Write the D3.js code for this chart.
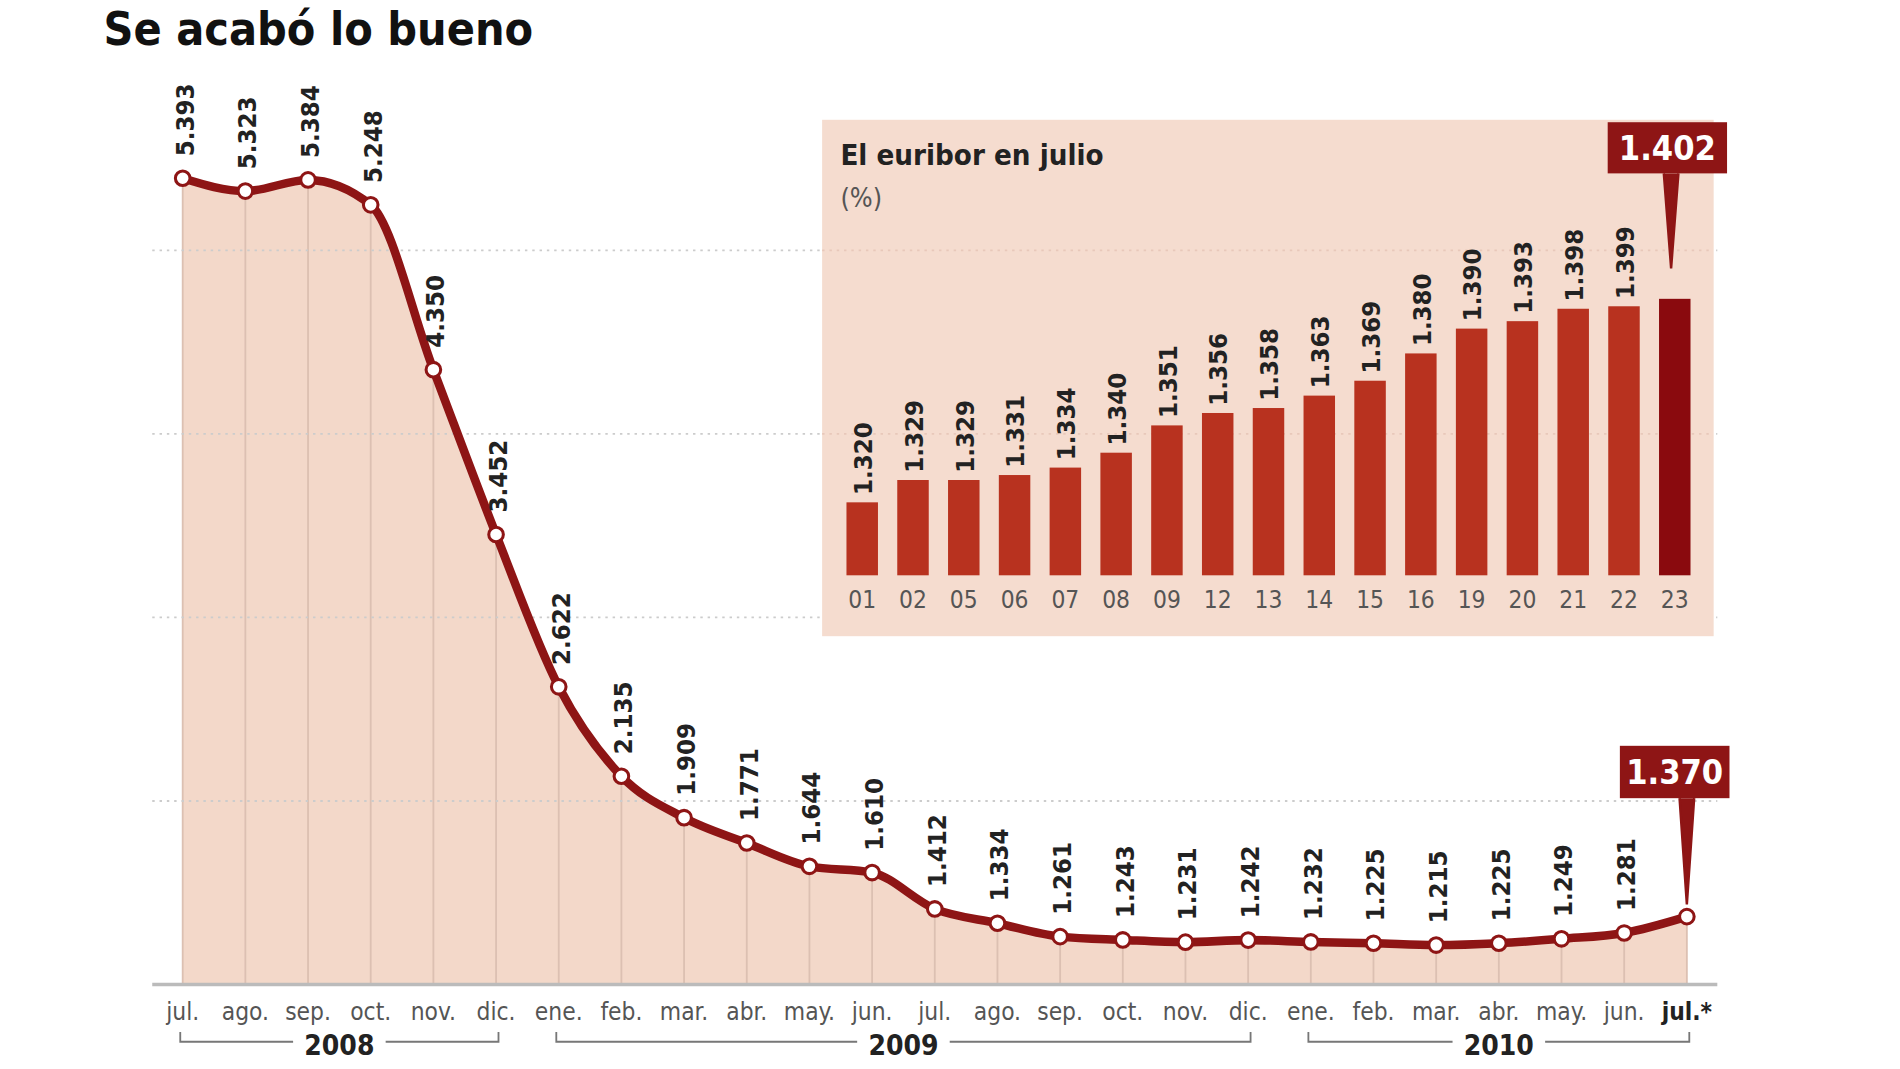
<!DOCTYPE html>
<html><head><meta charset="utf-8">
<script src="https://cdn.jsdelivr.net/npm/d3@7"></script>
<style>body{margin:0;background:#fff}svg{display:block}
text{font-family:"Liberation Sans Narrow","DejaVu Sans Condensed","Arial Narrow",sans-serif;font-weight:bold}</style>
</head><body><svg id="c" width="1900" height="1069" viewBox="0 0 1560 877"></svg>
<script>
const months=["jul.","ago.","sep.","oct.","nov.","dic.","ene.","feb.","mar.","abr.","may.","jun.","jul.","ago.","sep.","oct.","nov.","dic.","ene.","feb.","mar.","abr.","may.","jun.","jul.*"];
const values=[5.393,5.323,5.384,5.248,4.350,3.452,2.622,2.135,1.909,1.771,1.644,1.610,1.412,1.334,1.261,1.243,1.231,1.242,1.232,1.225,1.215,1.225,1.249,1.281,1.370];
const labels=["5.393","5.323","5.384","5.248","4.350","3.452","2.622","2.135","1.909","1.771","1.644","1.610","1.412","1.334","1.261","1.243","1.231","1.242","1.232","1.225","1.215","1.225","1.249","1.281",""];
const years=[{y:"2008",a:0,b:5},{y:"2009",a:6,b:17},{y:"2010",a:18,b:24}];
const gridVals=[2,3,4,5];
const days=["01","02","05","06","07","08","09","12","13","14","15","16","19","20","21","22","23"];
const julyVals=[1.320,1.329,1.329,1.331,1.334,1.340,1.351,1.356,1.358,1.363,1.369,1.380,1.390,1.393,1.398,1.399,1.402];

const svg=d3.select("#c");
const red="#8e1515";
const x=d3.scaleLinear().domain([0,24]).range([150,1385]);
const y=d3.scaleLinear().domain([1,5.393]).range([808,146]);

svg.append("text").attr("x",85).attr("y",37).attr("font-size",38).attr("font-family","DejaVu Sans").attr("fill","#111").text("Se acabó lo bueno");

const area=d3.area().x((d,i)=>x(i)).y0(y(1)).y1(d=>y(d)).curve(d3.curveMonotoneX);
svg.append("path").datum(values).attr("d",area).attr("fill","#f3d8c9");
svg.selectAll(".vl").data(values).join("line").attr("x1",(d,i)=>x(i)).attr("x2",(d,i)=>x(i)).attr("y1",y(1)).attr("y2",d=>y(d)).attr("stroke","#dcc0b2").attr("stroke-width",1.5);
svg.selectAll(".g").data(gridVals).join("line").attr("x1",125).attr("x2",1410).attr("y1",d=>y(d)).attr("y2",d=>y(d)).attr("stroke","#ccc").attr("stroke-width",1.5).attr("stroke-dasharray","2,4");
svg.append("line").attr("x1",125).attr("x2",1410).attr("y1",y(1)).attr("y2",y(1)).attr("stroke","#bbb").attr("stroke-width",3);

const ix=d3.scaleBand().domain(days).range([695,1388]).paddingInner(0.38);
const iy=d3.scaleLinear().domain([1.2906,1.402]).range([472,245]);
svg.append("rect").attr("x",675).attr("y",98).attr("width",732).attr("height",424).attr("fill","#f5dccf");
svg.selectAll(".g2").data(gridVals.filter(v=>v>=4)).join("line").attr("x1",675).attr("x2",1407).attr("y1",d=>y(d)).attr("y2",d=>y(d)).attr("stroke","#e8c8ba").attr("stroke-width",1.5).attr("stroke-dasharray","2,4");
svg.append("text").attr("x",690).attr("y",135).attr("font-size",24).attr("fill","#222").text("El euribor en julio");
svg.append("text").attr("x",690).attr("y",170).attr("font-size",22).attr("fill","#555").style("font-weight","normal").text("(%)");
svg.selectAll(".bar").data(julyVals).join("rect").attr("x",(d,i)=>ix(days[i])).attr("width",ix.bandwidth()).attr("y",d=>iy(d)).attr("height",d=>472-iy(d)).attr("fill",(d,i)=>i===16?"#8a0a0e":"#b8321f");
svg.selectAll(".bl").data(julyVals.slice(0,16)).join("text").attr("transform",(d,i)=>`translate(${ix(days[i])+ix.bandwidth()/2+8},${iy(d)-6}) rotate(-90)`).attr("font-size",21).attr("fill","#222").text(d=>d.toFixed(3));
svg.selectAll(".dl").data(days).join("text").attr("x",d=>ix(d)+ix.bandwidth()/2).attr("y",499).attr("text-anchor","middle").attr("font-size",20).attr("fill","#555").style("font-weight","normal").text(d=>d);

svg.append("path").datum(values).attr("d",d3.line().x((d,i)=>x(i)).y(d=>y(d)).curve(d3.curveMonotoneX)).attr("fill","none").attr("stroke",red).attr("stroke-width",7);
svg.selectAll(".pt").data(values).join("circle").attr("cx",(d,i)=>x(i)).attr("cy",d=>y(d)).attr("r",6).attr("fill","#fff").attr("stroke",red).attr("stroke-width",2.5);
svg.selectAll(".vlab").data(values).join("text").attr("transform",(d,i)=>`translate(${x(i)+9},${y(d)-18}) rotate(-90)`).attr("font-size",21).attr("fill","#222").text((d,i)=>labels[i]);

svg.selectAll(".ml").data(months).join("text").attr("x",(d,i)=>x(i)).attr("y",837).attr("text-anchor","middle").attr("font-size",20).attr("fill",(d,i)=>i===24?"#222":"#555").style("font-weight",(d,i)=>i===24?"bold":"normal").text(d=>d);
years.forEach(o=>{
  const a=x(o.a)-2,b=x(o.b)+2,m=(a+b)/2;
  svg.append("path").attr("d",`M${a},847V855H${m-38}M${m+38},855H${b}V847`).attr("stroke","#777").attr("stroke-width",1.5).attr("fill","none");
  svg.append("text").attr("x",m).attr("y",866).attr("text-anchor","middle").attr("font-size",23).attr("fill","#222").text(o.y);
});

function callout(bx,by,w,h,px,py,txt){
  svg.append("path").attr("d",`M${px-6},${by+h}L${px},${py}L${px+6},${by+h}`).attr("fill",red).attr("stroke",red).attr("stroke-width",2);
  svg.append("rect").attr("x",bx).attr("y",by).attr("width",w).attr("height",h).attr("fill",red);
  svg.append("text").attr("x",bx+w/2).attr("y",by+h/2+10).attr("text-anchor","middle").attr("font-size",28).attr("fill","#fff").text(txt);
}
callout(1320,100,98,42,ix("23")+ix.bandwidth()/2-3,220,julyVals[16].toFixed(3));
callout(1330,612,90,43,x(24),y(values[24])-10,values[24].toFixed(3));
</script></body></html>
